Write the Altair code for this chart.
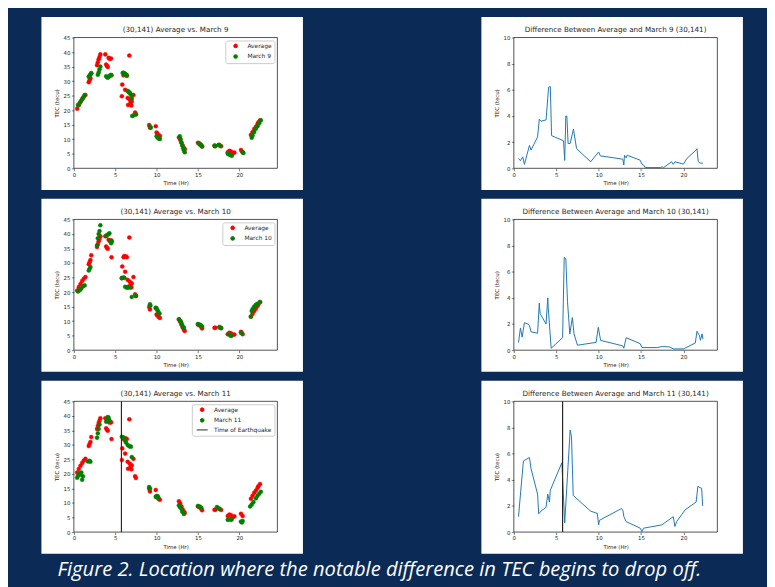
import altair as alt
import pandas as pd

# ---------------- data ----------------
avg_t = [0.4, 0.6, 0.8, 1.0, 1.2, 1.4, 1.8, 1.9, 2.0, 2.1, 2.8, 2.9, 3.0, 3.1, 3.2,
         3.8, 3.9, 4.0, 4.1, 4.2, 4.35, 4.5, 4.55,
         5.8, 5.85, 6.0, 6.1, 6.2, 6.3, 6.4, 6.5, 6.55, 6.7, 6.75, 6.85, 6.95, 7.0, 7.2, 7.4, 7.5,
         9.1, 9.2, 9.9, 10.0, 10.1, 10.25, 10.4, 12.7, 12.85, 13.0, 13.15, 13.3, 13.4,
         15.0, 15.2, 15.4, 15.5, 17.0, 17.1, 17.6, 17.8, 18.6, 18.8, 19.0, 19.2, 19.4,
         20.2, 20.4, 21.4, 21.6, 21.8, 22.0, 22.2, 22.3, 22.5]
avg_tec = [20.5, 21.7, 22.8, 23.8, 24.6, 25.2, 29.6, 30.3, 31.0, 32.7, 35.5, 36.5, 37.5, 38.3, 39.2,
           39.2, 35.7, 35.2, 34.9, 38.0, 37.6, 37.8, 32.0,
           24.8, 28.8, 32.0, 32.4, 27.0, 32.2, 32.0, 24.2, 21.8, 38.8, 23.6, 22.5, 21.6, 23.0, 25.2, 19.2, 18.6,
           14.9, 14.0, 14.5, 12.3, 11.9, 11.4, 11.1, 10.6, 9.8, 8.8, 7.8, 7.0, 6.6,
           8.8, 8.5, 8.0, 7.5, 7.7, 7.7, 8.0, 7.6, 5.5, 6.0, 5.8, 5.2, 5.4,
           6.3, 5.5, 11.5, 12.5, 13.5, 14.3, 15.2, 15.8, 16.5]

m9_t = [0.5, 0.7, 0.9, 1.1, 1.3, 1.8, 1.9, 2.0, 2.1, 2.9, 3.0, 3.1, 3.2,
        3.9, 4.0, 4.1, 4.2, 4.3, 4.4, 4.5,
        5.9, 6.0, 6.1, 6.2, 6.3, 6.4, 6.5, 6.6, 6.7, 6.8, 6.9, 7.0, 7.05, 7.2, 7.5,
        9.2, 9.3, 10.0, 10.1, 10.2, 10.3, 10.4, 12.8, 12.9, 13.0, 13.1, 13.2, 13.3, 13.4,
        15.1, 15.2, 15.3, 15.5, 17.0, 17.1, 17.5, 17.7, 18.6, 18.8, 19.0, 19.1,
        20.4, 20.5, 21.5, 21.6, 21.8, 22.0, 22.2, 22.4, 22.6]
m9_tec = [21.8, 22.5, 23.3, 24.2, 25.2, 31.5, 31.9, 32.3, 32.7, 32.2, 33.0, 34.0, 35.0,
          31.7, 31.4, 31.2, 31.5, 31.7, 32.0, 32.1,
          32.8, 32.9, 32.6, 32.5, 32.2, 31.8, 26.6, 26.4, 26.1, 25.8, 25.2, 24.0, 18.0, 18.2, 18.5,
          14.4, 14.0, 11.0, 10.7, 10.4, 10.2, 10.1, 11.0, 10.0, 8.9, 7.9, 7.0, 6.2, 5.5,
          8.6, 8.3, 8.0, 7.5, 7.8, 7.6, 8.1, 7.7, 5.0, 4.7, 4.5, 4.3,
          5.5, 5.3, 10.5, 11.3, 12.5, 13.6, 14.5, 15.5, 16.5]

m10_t = [0.5, 0.7, 0.9, 1.1, 1.3, 1.8, 1.9, 2.0, 2.8, 2.9, 3.0, 3.1, 3.2,
         3.9, 4.0, 4.2, 4.3, 4.4, 4.5, 4.6,
         5.8, 6.0, 6.1, 6.2, 6.4, 6.6, 6.8, 7.0, 7.5,
         9.2, 9.25, 9.9, 10.0, 10.1, 10.2, 10.35, 12.7, 12.9, 13.0, 13.1, 13.3,
         15.0, 15.2, 15.4, 15.5, 17.6, 17.8, 18.7, 18.9, 19.0,
         20.2, 20.3, 21.4, 21.5, 21.6, 21.8, 22.0, 22.2, 22.5]
m10_tec = [20.2, 20.6, 21.2, 22.0, 22.3, 27.4, 28.0, 28.6, 36.0, 38.5, 40.0, 41.0, 43.0,
           39.3, 39.6, 40.0, 40.2, 37.6, 36.8, 37.5,
           24.8, 25.0, 24.9, 21.8, 21.5, 21.6, 21.6, 18.3, 18.8,
           15.8, 15.3, 14.6, 14.3, 13.8, 13.2, 12.6, 10.6, 10.0, 9.4, 8.6, 7.8,
           9.0, 8.8, 8.5, 8.1, 7.8, 7.6, 5.5, 5.2, 4.9,
           6.0, 5.9, 11.6, 13.5, 14.2, 15.0, 15.6, 16.0, 16.6]

m11_t = [0.4, 0.5, 0.7, 0.8, 0.9, 1.0, 1.1, 1.7, 1.9, 2.0, 2.8, 2.9, 3.0, 3.1,
         3.9, 4.0, 4.1, 4.2, 4.3,
         5.8, 6.0, 6.2, 6.3, 6.5, 6.7, 6.9, 7.0,
         9.1, 9.2, 9.9, 10.0, 10.1, 10.2, 12.7, 12.8, 13.0, 13.1, 13.3,
         15.0, 15.2, 15.4, 17.3, 17.4, 17.6, 18.6, 18.8, 19.0, 19.1,
         20.2, 20.3, 20.4, 21.3, 21.5, 21.7, 22.0, 22.2, 22.4, 22.6]
m11_tec = [18.7, 19.4, 20.2, 19.8, 20.5, 18.0, 19.2, 24.3, 24.5, 24.2, 32.5, 34.0, 35.5, 37.0,
           38.0, 38.8, 39.6, 39.3, 38.4,
           32.8, 32.5, 31.5, 30.8, 30.0, 29.5, 29.4, 25.8,
           15.5, 15.0, 12.2, 12.0, 12.4, 12.0, 9.2, 8.6, 8.0, 7.0, 6.2,
           9.0, 8.8, 8.4, 8.6, 8.2, 8.0, 4.2, 4.4, 4.2, 4.5,
           3.6, 3.3, 3.8, 8.8, 9.5, 10.3, 11.6, 12.5, 13.2, 13.9]

d9_t = [0.55, 0.78, 1.05, 1.25, 1.84, 2.03, 2.8, 3.0, 3.2, 3.8, 4.1, 4.3, 4.45, 5.86, 6.0,
        6.13, 6.25, 6.4, 6.64, 7.03, 7.4, 9.06, 10.0, 10.2, 12.85, 12.97, 13.05, 13.25, 13.36,
        14.9, 15.1, 15.3, 15.5, 17.3, 17.5, 17.65, 18.6, 18.8, 19.0, 20.0, 20.4, 21.5, 21.6,
        21.75, 21.95, 22.3]
d9_v = [0.75, 0.58, 0.88, 0.3, 1.75, 1.4, 2.4, 3.75, 3.6, 3.7, 6.2, 6.25, 2.5, 2.1, 0.6,
        4.0, 4.0, 1.9, 1.9, 3.0, 1.5, 0.5, 1.25, 0.95, 0.7, 0.25, 1.0, 0.8, 1.0,
        0.62, 0.32, 0.25, 0.05, 0.05, 0.12, 0.05, 0.5, 0.3, 0.5, 0.32, 0.75, 1.4, 1.5,
        0.5, 0.4, 0.4]

d10_t = [0.55, 0.78, 0.98, 1.25, 1.64, 1.84, 2.03, 2.8, 3.0, 3.1, 3.8, 4.0, 4.06, 4.4, 5.75,
         5.94, 6.13, 6.33, 6.6, 6.9, 7.1, 7.5, 9.7, 9.96, 10.23, 12.85, 12.97, 13.25, 14.9, 15.1,
         16.9, 17.5, 18.4, 18.8, 20.0, 21.4, 21.6, 21.9, 22.0, 22.2, 22.3]
d10_v = [0.58, 1.7, 1.0, 2.1, 2.0, 1.9, 1.4, 1.3, 3.6, 2.8, 2.0, 4.0, 3.25, 0.15, 0.95,
         7.1, 7.0, 3.7, 1.25, 2.5, 1.25, 0.38, 0.6, 1.75, 0.75, 0.33, 0.15, 0.95, 0.5, 0.2,
         0.2, 0.28, 0.25, 0.1, 0.1, 0.55, 1.45, 1.1, 0.75, 1.25, 0.85]

d11_t = [0.55, 1.13, 1.84, 2.03, 2.8, 2.93, 3.2, 3.8, 4.0, 4.2, 4.3, 5.66, 6.0, 6.64, 6.8,
         7.0, 9.06, 9.84, 10.0, 10.1, 12.7, 12.85, 12.97, 13.24, 14.9, 15.1, 15.3, 17.45,
         18.8, 19.0, 19.2, 20.2, 21.5, 21.7, 21.95, 22.15, 22.27]
d11_v = [1.18, 5.44, 5.7, 4.85, 2.9, 1.4, 1.6, 1.9, 2.9, 2.3, 3.2, 5.3, 0.7, 7.8, 7.3,
         2.8, 1.6, 1.43, 0.55, 0.9, 1.8, 1.68, 1.2, 0.8, 0.3, 0.05, 0.3, 0.55,
         1.18, 0.43, 0.8, 1.7, 2.3, 3.5, 3.4, 3.35, 2.0]

quake_time = 5.75

x_ticks = [0, 5, 10, 15, 20]
tec_ticks = [0, 5, 10, 15, 20, 25, 30, 35, 40, 45]
diff_ticks = [0, 2, 4, 6, 8, 10]

caption = "Figure 2. Location where the notable difference in TEC begins to drop off."

# ---------------- styling ----------------
NAVY = "#0b2a55"
INK = "#262626"
FONT = "DejaVu Sans"
W, H = 207, 133


def x_axis():
    return alt.Axis(values=x_ticks, title="Time (Hr)", grid=False, domain=False,
                    tickSize=2.5, tickWidth=0.6, tickColor=INK,
                    labelFont=FONT, labelFontSize=5.5, labelColor=INK, labelFlush=False,
                    labelPadding=1.5, titleFont=FONT, titleFontSize=5.5,
                    titleFontWeight="normal", titleColor=INK, titlePadding=3, zindex=1)


def y_axis(vals):
    return alt.Axis(values=vals, title="TEC (tecu)", grid=False, domain=False,
                    tickSize=2.5, tickWidth=0.6, tickColor=INK,
                    labelFont=FONT, labelFontSize=5.5, labelColor=INK, labelFlush=False,
                    labelPadding=1.5, titleFont=FONT, titleFontSize=5.5,
                    titleFontWeight="normal", titleColor=INK, titlePadding=4, zindex=1)


def panel_title(text):
    return alt.TitleParams(text=text, font=FONT, fontSize=7.3, fontWeight="normal",
                           color=INK, offset=-16.5, anchor="middle", frame="group", zindex=1)


def bg():
    return alt.Chart(pd.DataFrame({"k": [0]})).mark_rect(color="white").encode(
        x=alt.value(-33), x2=alt.value(W + 26), y=alt.value(-21), y2=alt.value(H + 22))


def frame():
    return alt.Chart(pd.DataFrame({"k": [0]})).mark_rect(
        filled=False, color=INK, strokeWidth=0.8).encode(
        x=alt.value(0), x2=alt.value(W), y=alt.value(0), y2=alt.value(H))


def scatter_panel(m_t, m_v, label, quake=None):
    df = pd.DataFrame({
        "t": avg_t + m_t,
        "tec": avg_tec + m_v,
        "series": ["Average"] * len(avg_t) + [label] * len(m_t),
    })
    domain = ["Average", label]
    cols = ["#ff0000", "#008000"]
    shapes = ["circle", "circle"]
    if quake is not None:
        domain.append("Time of Earthquake")
        cols.append(INK)
        shapes.append("M-3,0H3")
    leg = alt.Legend(title=None, orient="top-right", offset=3, fillColor="white",
                     strokeColor="#cccccc", cornerRadius=2, padding=2.5,
                     labelFont=FONT, labelFontSize=6, labelColor=INK,
                     symbolSize=14, symbolStrokeWidth=1, symbolOffset=5,
                     labelOffset=9, rowPadding=2.8, zindex=2)
    xs = alt.X("t:Q", scale=alt.Scale(domain=[0, 24.6], nice=False, zero=False), axis=x_axis())
    ys = alt.Y("tec:Q", scale=alt.Scale(domain=[0, 45], nice=False), axis=y_axis(tec_ticks))
    cscale = alt.Scale(domain=domain, range=cols)
    pts = alt.Chart(df).mark_point(filled=True, size=17, strokeWidth=0.4, opacity=1).encode(
        x=xs, y=ys,
        fill=alt.Fill("series:N", scale=cscale, legend=leg),
        stroke=alt.Stroke("series:N", scale=cscale, legend=leg),
        shape=alt.Shape("series:N", scale=alt.Scale(domain=domain, range=shapes), legend=leg),
    )
    layers = [bg(), pts]
    if quake is not None:
        qdf = pd.DataFrame({"t": [quake], "series": ["Time of Earthquake"]})
        rule = alt.Chart(qdf).mark_rule(strokeWidth=1.2).encode(
            x=xs, stroke=alt.Stroke("series:N", scale=cscale, legend=leg))
        layers.append(rule)
    layers.append(frame())
    return alt.layer(*layers).properties(
        width=W, height=H, title=panel_title(f"(30,141) Average vs. {label}"))


def diff_panel(t, v, label, quake=None):
    df = pd.DataFrame({"t": t, "v": v})
    xs = alt.X("t:Q", scale=alt.Scale(domain=[0, 24], nice=False, zero=False), axis=x_axis())
    line = alt.Chart(df).mark_line(color="#1f77b4", strokeWidth=1).encode(
        x=xs,
        y=alt.Y("v:Q", scale=alt.Scale(domain=[0, 10], nice=False), axis=y_axis(diff_ticks)),
    )
    layers = [bg(), line]
    if quake is not None:
        qdf = pd.DataFrame({"t": [quake]})
        layers.append(alt.Chart(qdf).mark_rule(color=INK, strokeWidth=1.2).encode(x=xs))
    layers.append(frame())
    return alt.layer(*layers).properties(
        width=W, height=H,
        title=panel_title(f"Difference Between Average and {label} (30,141)"))


panels = [
    scatter_panel(m9_t, m9_tec, "March 9"),
    diff_panel(d9_t, d9_v, "March 9"),
    scatter_panel(m10_t, m10_tec, "March 10"),
    diff_panel(d10_t, d10_v, "March 10"),
    scatter_panel(m11_t, m11_tec, "March 11", quake=quake_time),
    diff_panel(d11_t, d11_v, "March 11", quake=quake_time),
]

chart = alt.concat(
    *panels, columns=2, spacing={"row": 52, "column": 240.5}, bounds="flush"
).resolve_scale(
    fill="independent", stroke="independent", shape="independent"
).resolve_legend(
    fill="independent", stroke="independent", shape="independent"
).properties(
    background=NAVY,
    padding={"left": 34, "top": 4, "right": 24, "bottom": 12},
    title=alt.TitleParams(text=caption, orient="bottom", anchor="middle", font="Open Sans",
                          fontStyle="italic", fontWeight="normal", fontSize=20.5,
                          color="white", baseline="alphabetic", offset=23, dx=-13),
).configure_view(strokeWidth=0)

chart.save("out.html", embed_options={"renderer": "svg", "actions": False})
